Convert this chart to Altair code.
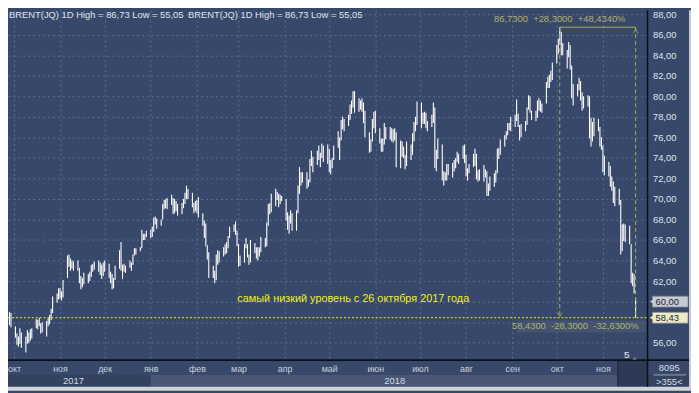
import altair as alt
import pandas as pd

# ---------------- layout ----------------
W, H = 647, 354          # plot area
RP, BP = 44, 31          # right / bottom padding (axis column, time strip)

# ---------------- data (daily high / low) ----------------
SEP17_H = [59.0, 58.9]
SEP17_L = [57.7, 57.5]
OCT17_H = [57.6, 56.9, 56.6, 57.4, 57.0,
           56.6, 57.2, 57.0, 57.3, 57.4,
           58.3, 58.2, 58.4, 57.9, 58.0,
           58.1, 58.4, 58.7, 59.3, 60.5,
           60.8, 61.3]
OCT17_L = [56.5, 55.8, 55.6, 55.9, 55.5,
           55.05, 55.9, 56.0, 56.2, 56.4,
           57.4, 57.3, 57.6, 56.9, 57.0,
           56.6, 57.6, 57.8, 58.2, 58.9,
           59.9, 60.2]
NOV17_H = [61.3, 61.0, 62.1,
           64.5, 64.6, 64.2, 64.0, 63.9,
           64.0, 63.3, 62.5, 62.3, 62.8,
           62.7, 62.9, 63.6, 63.7, 63.9,
           64.0, 63.8, 63.6, 63.8]
NOV17_L = [60.3, 60.1, 60.4,
           62.3, 63.4, 63.0, 63.2, 63.0,
           63.0, 61.8, 61.2, 61.4, 61.7,
           61.8, 62.0, 62.4, 62.9, 63.1,
           62.9, 62.6, 62.2, 62.5]
DEC17_H = [64.0,
           63.7, 62.9, 62.7, 62.3, 63.5,
           65.0, 65.8, 63.6, 63.7, 63.5,
           64.0, 63.8, 64.6, 65.2, 65.2,
           65.3, 67.0, 66.6, 66.6, 66.9]
DEC17_L = [62.9,
           62.3, 61.8, 61.2, 61.3, 62.1,
           63.2, 63.0, 62.2, 62.9, 62.8,
           63.3, 63.0, 63.6, 64.5, 64.6,
           64.9, 65.2, 66.0, 66.0, 66.3]
JAN18_H = [67.0, 67.3, 68.2, 68.3, 68.1,
           68.0, 69.5, 69.9, 70.0, 70.1,
           70.4, 70.1, 70.0, 69.8, 69.5,
           69.6, 70.0, 70.6, 71.3, 71.0,
           70.6, 69.6, 69.8]
JAN18_L = [66.2, 66.3, 66.8, 67.5, 67.1,
           67.4, 68.0, 69.0, 69.1, 69.0,
           69.4, 68.5, 68.6, 68.8, 68.4,
           68.5, 69.1, 69.5, 70.0, 70.0,
           69.2, 68.6, 68.8]
FEB18_H = [69.9, 70.2,
           68.6, 67.9, 67.6, 65.5, 64.8,
           63.5, 63.0, 64.6, 65.0, 64.9,
           65.3, 65.6, 65.8, 66.4, 67.3,
           67.5, 67.8, 66.9]
FEB18_L = [68.6, 68.2,
           67.4, 66.2, 65.4, 64.1, 62.3,
           62.3, 61.8, 62.1, 63.6, 63.8,
           64.4, 64.6, 64.7, 65.2, 66.2,
           66.8, 66.5, 65.4]
MAR18_H = [65.6, 64.5,
           65.6, 66.2, 65.6, 64.6, 66.0,
           65.7, 65.3, 65.3, 65.3, 66.3,
           66.2, 67.7, 69.5, 69.6, 70.5,
           71.0, 70.7, 70.5, 70.4, 70.3]
MAR18_L = [63.4, 63.5,
           63.8, 65.2, 64.3, 63.6, 63.8,
           64.7, 64.2, 64.0, 64.4, 64.8,
           65.3, 65.4, 67.4, 68.5, 68.7,
           69.3, 69.9, 69.2, 69.5, 69.8]
APR18_H = [70.0, 68.7, 68.4, 68.9, 68.6,
           68.9, 71.3, 73.1, 72.6, 72.6,
           72.6, 71.9, 73.9, 74.7, 74.1,
           74.7, 75.2, 74.5, 75.4, 75.2,
           75.3]
APR18_L = [67.9, 67.0, 66.6, 67.6, 66.9,
           66.9, 68.6, 70.5, 71.3, 71.6,
           71.0, 71.2, 71.6, 73.2, 72.6,
           73.3, 73.8, 73.1, 74.0, 73.6,
           73.4]
MAY18_H = [74.9, 73.8, 74.0, 75.2,
           76.6, 76.0, 77.7, 78.0, 77.8,
           78.2, 79.2, 79.6, 80.5, 80.5,
           79.8, 79.6, 79.8, 79.4, 78.6,
           76.5, 75.8, 77.8, 78.5]
MAY18_L = [72.6, 72.4, 73.0, 73.8,
           75.0, 73.8, 75.7, 76.8, 76.6,
           77.1, 77.7, 78.3, 78.9, 78.4,
           78.5, 78.7, 78.5, 77.4, 76.0,
           74.5, 74.6, 75.6, 76.9]
JUN18_H = [78.6,
           76.9, 75.9, 75.9, 77.4, 77.0,
           77.0, 76.9, 76.8, 76.9, 76.5,
           75.7, 75.6, 75.1, 74.3, 75.6,
           75.3, 76.4, 77.5, 78.0, 79.5]
JUN18_L = [76.4,
           75.4, 74.6, 74.6, 75.3, 75.8,
           75.8, 75.6, 75.5, 75.7, 73.1,
           73.0, 74.1, 74.0, 72.9, 73.2,
           73.8, 74.3, 75.6, 76.6, 77.2]
JUL18_H = [79.4, 78.4, 78.5, 78.4, 77.6,
           78.2, 79.4, 78.9, 74.8, 75.9,
           75.3, 72.7, 72.6, 73.4, 73.4,
           73.5, 73.8, 74.0, 74.6, 74.4,
           75.2, 75.3]
JUL18_L = [76.9, 77.3, 77.3, 76.9, 76.6,
           77.0, 77.4, 73.0, 72.7, 73.9,
           71.8, 71.3, 71.8, 71.8, 72.3,
           72.1, 72.7, 73.0, 73.6, 73.4,
           73.9, 73.5]
AUG18_H = [74.3, 73.0, 73.4,
           74.4, 74.9, 74.4, 72.8, 72.9,
           73.3, 72.9, 72.7, 71.5, 72.2,
           72.5, 72.8, 74.9, 75.0, 75.8,
           76.2, 76.6, 77.4, 77.4, 78.0]
AUG18_L = [72.2, 71.8, 72.5,
           73.1, 73.2, 71.9, 71.7, 71.8,
           71.7, 72.1, 70.3, 70.3, 70.8,
           71.2, 71.6, 72.5, 73.9, 74.3,
           75.1, 75.8, 76.2, 76.7, 76.6]
SEP18_H = [78.2, 79.7, 78.3, 77.2, 77.3,
           77.6, 78.9, 80.1, 80.0, 78.6,
           78.6, 79.6, 79.8, 79.6, 79.3,
           81.4, 81.9, 82.1, 82.5, 83.3]
SEP18_L = [77.0, 77.6, 77.0, 75.7, 76.0,
           76.6, 77.2, 78.7, 78.4, 77.7,
           77.6, 77.9, 78.6, 78.5, 78.4,
           79.3, 80.8, 80.8, 81.4, 81.6]
OCT18_H = [85.0, 85.6, 86.73, 86.3, 85.2,
           84.5, 85.3, 85.0, 83.0, 81.2,
           81.2, 81.8, 81.5, 80.4, 80.0,
           80.1, 80.0, 77.9, 77.5, 77.9,
           77.8, 77.0, 76.0]
OCT18_L = [83.2, 84.1, 85.0, 84.0, 84.0,
           82.7, 83.8, 82.6, 79.8, 79.1,
           80.0, 80.6, 79.6, 78.6, 78.8,
           79.0, 75.9, 75.1, 75.6, 76.1,
           76.6, 75.1, 74.8]
NOV18_H = [75.2, 74.2,
           73.6, 73.2, 72.2, 71.7, 71.2,
           71.0, 69.9, 67.5, 67.6, 67.5,
           67.4, 65.6, 62.8, 62.7, 60.3]
NOV18_L = [72.6, 72.3,
           72.2, 71.2, 70.8, 69.6, 69.3,
           69.4, 64.6, 64.9, 65.9, 65.8,
           65.6, 61.8, 61.5, 60.8, 58.43]

HIGHS = (SEP17_H + OCT17_H + NOV17_H + DEC17_H + JAN18_H + FEB18_H + MAR18_H +
         APR18_H + MAY18_H + JUN18_H + JUL18_H + AUG18_H + SEP18_H + OCT18_H + NOV18_H)
LOWS = (SEP17_L + OCT17_L + NOV17_L + DEC17_L + JAN18_L + FEB18_L + MAR18_L +
        APR18_L + MAY18_L + JUN18_L + JUL18_L + AUG18_L + SEP18_L + OCT18_L + NOV18_L)
DATES = pd.bdate_range("2017-09-28", "2018-11-23")
assert len(DATES) == len(HIGHS) == len(LOWS), (len(DATES), len(HIGHS), len(LOWS))

MONTHS_RU = ['янв', 'фев', 'мар', 'апр', 'май', 'июн', 'июл', 'авг', 'сен', 'окт', 'ноя', 'дек']
Y_TICKS = [56, 58, 60, 62, 64, 66, 68, 70, 72, 74, 76, 78, 80, 82, 84, 86, 88]
YEARS = ["2017", "2018"]
YEAR_POS = [pd.Timestamp("2017-11-10"), pd.Timestamp("2018-06-14")]
TITLE = "BRENT(JQ) 1D High = 86,73 Low = 55,05"
PEAK, LAST, BASE = 86.73, 58.43, 60.00
PEAK_TXT = "86,7300 \u00a0+28,3000 \u00a0+48,4340%"
LAST_TXT = "58,4300 \u00a0-28,3000 \u00a0-32,6300%"
NOTE = "самый низкий уровень с 26 октября 2017 года"

df = pd.DataFrame({"date": DATES, "high": HIGHS, "low": LOWS})
years_df = pd.DataFrame({"d": YEAR_POS, "t": YEARS})

# ---------------- style ----------------
BG = "#38486a"
GRID = "#5c6c8f"
OLIVE = "#a9ae50"
OLIVE_TXT = "#aeb370"
YEL = "#f0ee2a"
FONT = "Liberation Sans"


def D(y, m, d):
    return alt.DateTime(year=y, month=m, date=d)


XS = alt.Scale(domain=[D(2017, 9, 27), D(2018, 12, 1)], nice=False)
YS = alt.Scale(domain=[54.30, 88.385], nice=False, zero=False)

month_starts = [D(2017, m, 1) for m in (10, 11, 12)] + [D(2018, m, 1) for m in range(1, 12)]
month_expr = "[" + ",".join("'%s'" % m for m in MONTHS_RU) + "][month(datum.value)]"
# the price tags on the right cover the 58 and 60 labels, as in the reference
y_expr = ("(datum.value == 58 || datum.value == 60) ? '' : "
          "replace(format(datum.value, '.2f'), '.', ',')")

X_AXIS = alt.Axis(values=month_starts, labelExpr=month_expr, grid=True, gridColor=GRID,
                  gridDash=[2, 3], gridWidth=1, ticks=False, domain=False, labelColor="#c6cedd",
                  labelFont=FONT, labelFontSize=9, labelPadding=5, labelFlush=False,
                  labelOverlap=False, title=None)
Y_AXIS = alt.Axis(values=Y_TICKS, orient="right", labelExpr=y_expr,
                  grid=True, gridColor=GRID, gridDash=[2, 3], gridWidth=1, ticks=False,
                  domain=False, labelColor="#dfe3ec", labelFont=FONT, labelFontSize=9.5,
                  labelPadding=5, labelFlush=False, title=None)

one = alt.Data(values=[{"k": 1}])


def XD(v):
    return alt.XDatum(v, type="temporal", scale=XS, axis=X_AXIS)


def YD(v):
    return alt.YDatum(v, type="quantitative", scale=YS, axis=Y_AXIS)


# ---------------- layers ----------------
bars = alt.Chart(df).mark_rule(color="white", strokeWidth=1.1).encode(
    x=alt.X("date:T", scale=XS, axis=X_AXIS),
    y=alt.Y("low:Q", scale=YS, axis=Y_AXIS),
    y2="high:Q",
)

# bottom time strip backgrounds
year17 = alt.Chart(one).mark_rect(color="#33425e").encode(
    x=alt.value(0), x2=alt.X2Datum(D(2018, 1, 1)), y=alt.value(H + 15), y2=alt.value(H + 27))
year18 = alt.Chart(one).mark_rect(color="#4a5876").encode(
    x=XD(D(2018, 1, 1)), x2=alt.value(617), y=alt.value(H + 15), y2=alt.value(H + 27))
future = alt.Chart(one).mark_rect(color="#2d3a55").encode(
    x=alt.value(617), x2=alt.value(W), y=alt.value(H), y2=alt.value(H + 27))
future_edge = alt.Chart(one).mark_rule(color="#1c2436", strokeWidth=1).encode(
    x=alt.value(617), y=alt.value(H), y2=alt.value(H + 27))
win_bottom = alt.Chart(one).mark_rect(color="#d0d3d9").encode(
    x=alt.value(0), x2=alt.value(W + RP), y=alt.value(H + 27), y2=alt.value(H + BP))
win_right = alt.Chart(one).mark_rect(color="#c9ccd3").encode(
    x=alt.value(W + RP - 2), x2=alt.value(W + RP), y=alt.value(0), y2=alt.value(H + BP))

year_txt = alt.Chart(years_df).mark_text(
    font=FONT, fontSize=9.5, color="#d3d8e3", baseline="middle").encode(
    x=alt.X("d:T", scale=XS, axis=X_AXIS), y=alt.value(H + 21), text="t:N")

# frame lines
hline = alt.Chart(one).mark_rule(color="#0b0f18", strokeWidth=2).encode(
    x=alt.value(0), x2=alt.value(W + RP - 2), y=alt.value(H))
vline = alt.Chart(one).mark_rule(color="#0b0f18", strokeWidth=1.5).encode(
    x=alt.value(W), y=alt.value(0), y2=alt.value(H + 27))

# bottom right box
box_a = alt.Chart(one).mark_text(text="8095", font=FONT, fontSize=9.5, color="#d8dde8",
                                 baseline="middle").encode(x=alt.value(W + 22), y=alt.value(H + 8))
box_b = alt.Chart(one).mark_text(text=">355<", font=FONT, fontSize=9.5, color="#d8dde8",
                                 baseline="middle").encode(x=alt.value(W + 22), y=alt.value(H + 22))
box_sep = alt.Chart(one).mark_rule(color="#9aa3b8", strokeWidth=1).encode(
    x=alt.value(W + 6), x2=alt.value(W + 39), y=alt.value(H + 15))

# titles
title1 = alt.Chart(one).mark_text(text=TITLE, font=FONT, fontSize=9.5, color="#dfe3ec",
                                  align="left", baseline="middle").encode(
    x=alt.value(1), y=alt.value(5))
title2 = alt.Chart(one).mark_text(text=TITLE, font=FONT, fontSize=9.5, color="#dfe3ec",
                                  align="left", baseline="middle").encode(
    x=alt.value(182), y=alt.value(5))

# yellow level line and note
level = alt.Chart(one).mark_rule(color=YEL, strokeWidth=1, strokeDash=[2, 2]).encode(
    x=alt.value(0), x2=alt.value(W), y=YD(LAST))
note = alt.Chart(one).mark_text(text=NOTE, font=FONT, fontSize=11, color=YEL,
                                align="left", baseline="middle").encode(
    x=alt.value(232), y=alt.value(292))

# measurement annotation
top_line = alt.Chart(one).mark_rule(color=OLIVE, strokeWidth=1).encode(
    x=XD(D(2018, 10, 3)), x2=alt.X2Datum(D(2018, 11, 23)), y=YD(PEAK))
left_dash = alt.Chart(one).mark_rule(color=OLIVE, strokeWidth=1, strokeDash=[4, 3]).encode(
    x=XD(D(2018, 10, 3)), y=YD(PEAK), y2=alt.Y2Datum(LAST))
right_dash = alt.Chart(one).mark_rule(color=OLIVE, strokeWidth=1, strokeDash=[4, 3]).encode(
    x=XD(D(2018, 11, 23)), y=YD(PEAK), y2=alt.Y2Datum(LAST))
arrow_dn = alt.Chart(one).mark_point(shape="M -1 -1 L 0 1 L 1 -1", filled=False, color=OLIVE,
                                     size=22, strokeWidth=1, yOffset=-3).encode(
    x=XD(D(2018, 10, 3)), y=YD(LAST))
arrow_up = alt.Chart(one).mark_point(shape="M -1 1 L 0 -1 L 1 1", filled=False, color=OLIVE,
                                     size=22, strokeWidth=1, yOffset=4).encode(
    x=XD(D(2018, 11, 23)), y=YD(PEAK))
peak_txt = alt.Chart(one).mark_text(text=PEAK_TXT, font=FONT, fontSize=9.5, color=OLIVE_TXT,
                                    baseline="middle", dy=-8).encode(
    x=XD(D(2018, 10, 3)), y=YD(PEAK))
last_box = alt.Chart(one).mark_rect(color="#44536f").encode(
    x=alt.value(515), x2=alt.value(W - 2), y=alt.value(314), y2=alt.value(326))
last_txt = alt.Chart(one).mark_text(text=LAST_TXT, font=FONT, fontSize=9.5, color=OLIVE_TXT,
                                    align="right", baseline="middle").encode(
    x=alt.value(638), y=alt.value(320))

# "5" marker
five = alt.Chart(one).mark_text(text="5", font=FONT, fontSize=10, color="#e6e9ef",
                                baseline="middle").encode(x=alt.value(626), y=alt.value(349))
five_tri = alt.Chart(one).mark_point(shape="triangle-up", filled=True, color="#7b8499",
                                     size=18).encode(x=alt.value(634), y=alt.value(352))


# price tags on the right axis
def tag(value, label, fill):
    half = 0.53
    box = alt.Chart(one).mark_rect(color=fill, stroke="#7f8594", strokeWidth=0.8).encode(
        x=alt.value(W + 5), x2=alt.value(W + 41), y=YD(value + half), y2=alt.Y2Datum(value - half))
    tri = alt.Chart(one).mark_point(shape="triangle-left", filled=True, color=fill,
                                    size=40, opacity=1).encode(x=alt.value(W + 5), y=YD(value))
    txt = alt.Chart(one).mark_text(text=label, font=FONT, fontSize=9.5, color="#1b243a",
                                   align="left", baseline="middle").encode(
        x=alt.value(W + 8), y=YD(value))
    return [box, tri, txt]


layers = ([bars, year17, year18, future, future_edge, win_bottom, win_right,
           year_txt, hline, vline, box_a, box_b, box_sep, title1, title2, level, note,
           top_line, left_dash, right_dash, arrow_dn, arrow_up, peak_txt, last_box, last_txt,
           five, five_tri]
          + tag(BASE, "60,00", "#c6cad2")
          + tag(LAST, "58,43", "#ecebc4"))

chart = alt.layer(*layers).properties(
    width=W, height=H,
    autosize=alt.AutoSizeParams(type="none"),
    padding={"left": 0, "top": 0, "right": RP, "bottom": BP},
).configure(background=BG).configure_view(fill=BG, stroke=None)

chart.save("out.html", embed_options={"renderer": "svg", "actions": False})
